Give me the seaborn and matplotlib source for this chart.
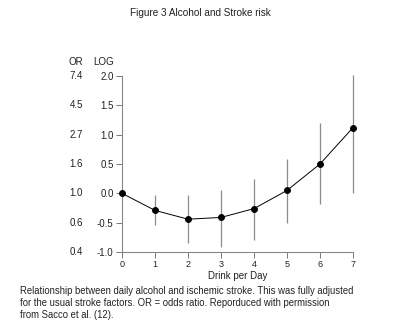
import matplotlib
matplotlib.use("Agg")
import matplotlib.pyplot as plt
import matplotlib.transforms as mtransforms
import seaborn as sns
import pandas as pd

drinks = [0, 1, 2, 3, 4, 5, 6, 7]
log_or = [0.0, -0.29, -0.44, -0.41, -0.26, 0.05, 0.50, 1.12]
ci_low = [0.0, -0.54, -0.85, -0.91, -0.79, -0.51, -0.18, 0.0]
ci_high = [0.0, -0.03, -0.03, 0.06, 0.24, 0.58, 1.20, 2.02]
log_ticks = [-1.0, -0.5, 0.0, 0.5, 1.0, 1.5, 2.0]
log_tick_labels = ["-1.0", "-0.5", "0.0", "0.5", "1.0", "1.5", "2.0"]
or_tick_labels = ["0.4", "0.6", "1.0", "1.6", "2.7", "4.5", "7.4"]

sns.set_style("white")
plt.rcParams["font.family"] = ["Liberation Sans", "DejaVu Sans"]

df = pd.DataFrame({"drinks": drinks, "log_or": log_or})

fig = plt.figure(figsize=(4.0, 3.33), dpi=100)
ax = fig.add_axes([0.305, 0.243, 0.5775, 0.529])

ax.vlines(drinks, ci_low, ci_high, color="#8c8c8c", linewidth=0.9, zorder=1,
          clip_on=False)
sns.lineplot(data=df, x="drinks", y="log_or", ax=ax, color="black", linewidth=0.7,
             marker="o", markersize=4.2, markeredgecolor="black", zorder=3, clip_on=False)

ax.set_xlim(0, 7)
ax.set_ylim(-1.0, 2.0)
ax.set_xticks(drinks)
ax.set_xticklabels([str(d) for d in drinks], fontsize=6.5)
ax.set_yticks(log_ticks)
ax.set_yticklabels(log_tick_labels, fontsize=7)
ax.tick_params(axis="both", direction="out", length=4, width=0.7, color="#777777",
               labelcolor="#222222", pad=2, left=True, bottom=True)
for side in ["top", "right"]:
    ax.spines[side].set_visible(False)
for side in ["left", "bottom"]:
    ax.spines[side].set_color("#888888")
    ax.spines[side].set_linewidth(0.8)

ax.set_xlabel("Drink per Day", fontsize=7, color="#222222", labelpad=1)
ax.set_ylabel("")

trans = mtransforms.blended_transform_factory(fig.transFigure, ax.transData)
for yv, lab in zip(log_ticks, or_tick_labels):
    ax.text(0.207, yv, lab, transform=trans, ha="right", va="center", fontsize=7,
            color="#222222")

fig.text(0.19, 0.815, "OR", ha="center", va="center", fontsize=7, color="#222222")
fig.text(0.26, 0.815, "LOG", ha="center", va="center", fontsize=7, color="#222222")

fig.text(0.5, 0.96, "Figure 3 Alcohol and Stroke risk", ha="center", va="center",
         fontsize=7.2, color="#222222")

caption = ("Relationship between daily alcohol and ischemic stroke. This was fully adjusted\n"
           "for the usual stroke factors. OR = odds ratio. Reporduced with permission\n"
           "from Sacco et al. (12).")
fig.text(0.05, 0.09, caption, ha="left", va="center", fontsize=6.85, color="#222222",
         linespacing=1.2)

fig.savefig("out.png", dpi=100, facecolor="white")
